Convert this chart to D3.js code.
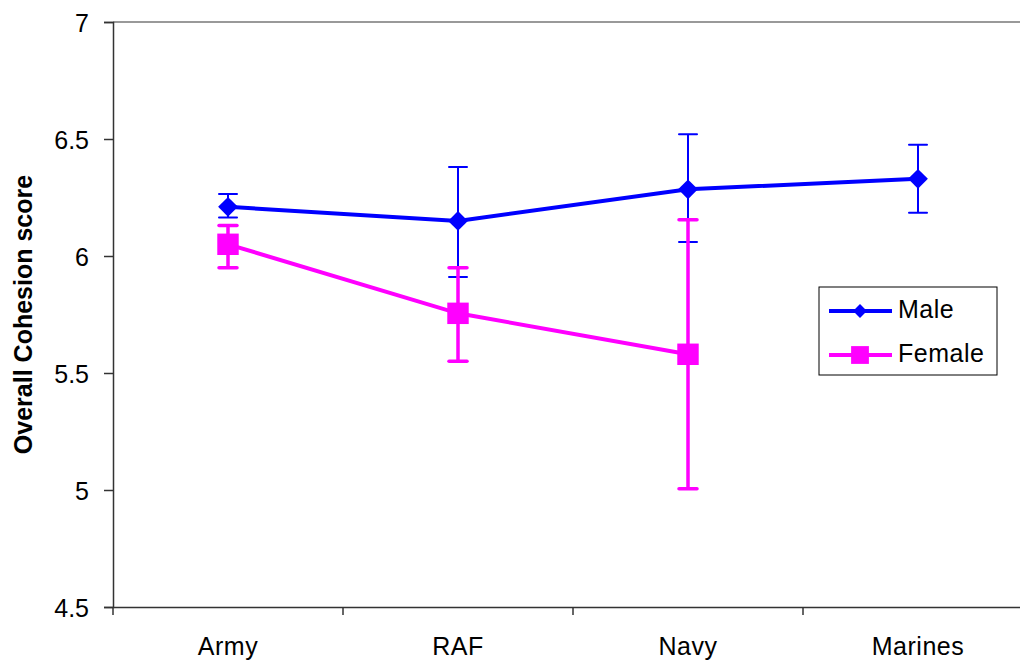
<!DOCTYPE html>
<head>
    <meta charset=utf-8>
    <title>Cohesion</title>
    <script src="https://d3js.org/d3.v7.min.js"></script>
    <style>
        body { margin: 0; background: #fff; }
        text { font-family: "Liberation Sans", Arial, sans-serif; fill: #000; }
    </style>
</head>
<body>
    <div id="chart"></div>
    <script type="text/javascript">
        var categories = ["Army", "RAF", "Navy", "Marines"];
        var yTicks = [4.5, 5, 5.5, 6, 6.5, 7];

        var maleMean = [6.21, 6.15, 6.285, 6.33];
        var maleHi   = [6.265, 6.38, 6.52, 6.475];
        var maleLo   = [6.165, 5.91, 6.06, 6.185];

        var femaleMean = [6.05, 5.755, 5.58];
        var femaleHi   = [6.13, 5.95, 6.155];
        var femaleLo   = [5.95, 5.55, 5.005];

        var svg_dx = 1020, svg_dy = 660;
        var plot = {left: 113, top: 22, bottom: 607, right: 1033};

        var svg = d3.select("#chart").append("svg")
            .attr("width", svg_dx).attr("height", svg_dy);

        var x = d3.scaleBand().domain(categories).range([plot.left, plot.right]);
        var y = d3.scaleLinear().domain([4.5, 7]).range([plot.bottom, plot.top]);
        var cx = d => x(d) + x.bandwidth() / 2;

        // top border
        svg.append("line")
            .attr("x1", plot.left).attr("x2", svg_dx)
            .attr("y1", y(7)).attr("y2", y(7))
            .attr("stroke", "#999").attr("stroke-width", 2);

        var axis_y = d3.axisLeft(y).tickValues(yTicks)
            .tickFormat(d3.format("")).tickSizeOuter(0).tickSize(9).tickPadding(15);
        var gy = svg.append("g").attr("transform", "translate(" + plot.left + ",0)").call(axis_y);
        gy.selectAll("path, line").attr("stroke", "#333").attr("stroke-width", 1.5);
        gy.selectAll("text").attr("font-size", 25).attr("dy", "0.36em");

        var axis_x = d3.axisBottom(x).tickSize(0).tickSizeOuter(0);
        var gx = svg.append("g").attr("transform", "translate(0," + plot.bottom + ")").call(axis_x);
        gx.select("path").attr("stroke", "#333").attr("stroke-width", 1.5);
        gx.selectAll("text").attr("font-size", 25).attr("y", 48).attr("dy", 0)
            .attr("letter-spacing", 0.5);
        // category dividers
        gx.selectAll("line.div").data(categories).enter().append("line")
            .attr("x1", d => x(d)).attr("x2", d => x(d))
            .attr("y1", 0).attr("y2", 8)
            .attr("stroke", "#333").attr("stroke-width", 1.5);

        svg.append("text")
            .attr("transform", "translate(32," + ((plot.top + plot.bottom) / 2) + ") rotate(-90)")
            .attr("text-anchor", "middle")
            .attr("font-size", 25).attr("font-weight", "bold")
            .text("Overall Cohesion score");

        function drawSeries(mean, hi, lo, color, ebWidth, shape) {
            var cats = categories.slice(0, mean.length);
            var g = svg.append("g");
            cats.forEach(function (c, i) {
                g.append("line").attr("x1", cx(c)).attr("x2", cx(c))
                    .attr("y1", y(hi[i])).attr("y2", y(lo[i]))
                    .attr("stroke", color).attr("stroke-width", ebWidth);
                [hi[i], lo[i]].forEach(function (v) {
                    g.append("line").attr("x1", cx(c) - 9).attr("x2", cx(c) + 9)
                        .attr("y1", y(v)).attr("y2", y(v))
                        .attr("stroke", color).attr("stroke-width", ebWidth)
                        .attr("stroke-linecap", "round");
                });
            });
            g.append("path")
                .attr("d", d3.line().x((d, i) => cx(cats[i])).y(d => y(d))(mean))
                .attr("fill", "none").attr("stroke", color).attr("stroke-width", 4);
            g.selectAll("path.m").data(mean).enter().append("path")
                .attr("transform", (d, i) => "translate(" + cx(cats[i]) + "," + y(d) + ")")
                .attr("d", shape)
                .attr("fill", color);
        }

        var diamond = d3.symbol().type(d3.symbolDiamond2).size(250)();
        var square = d3.symbol().type(d3.symbolSquare).size(460)();

        drawSeries(maleMean, maleHi, maleLo, "#0000ff", 2, diamond);
        drawSeries(femaleMean, femaleHi, femaleLo, "#ff00ff", 3.5, square);

        // legend
        var lg = svg.append("g").attr("transform", "translate(819,287)");
        lg.append("rect").attr("width", 178).attr("height", 88)
            .attr("fill", "#fff").attr("stroke", "#000").attr("stroke-width", 1);
        var items = [["Male", "#0000ff", diamond, 24, 0.7], ["Female", "#ff00ff", square, 68, 0.83]];
        items.forEach(function (it) {
            lg.append("line").attr("x1", 10).attr("x2", 73)
                .attr("y1", it[3]).attr("y2", it[3])
                .attr("stroke", it[1]).attr("stroke-width", 4);
            lg.append("path").attr("d", it[2])
                .attr("transform", "translate(41," + it[3] + ") scale(" + it[4] + ")")
                .attr("fill", it[1]);
            lg.append("text").attr("x", 79).attr("y", it[3] + 7)
                .attr("font-size", 25).attr("letter-spacing", 0.5).text(it[0]);
        });
    </script>
</body>
